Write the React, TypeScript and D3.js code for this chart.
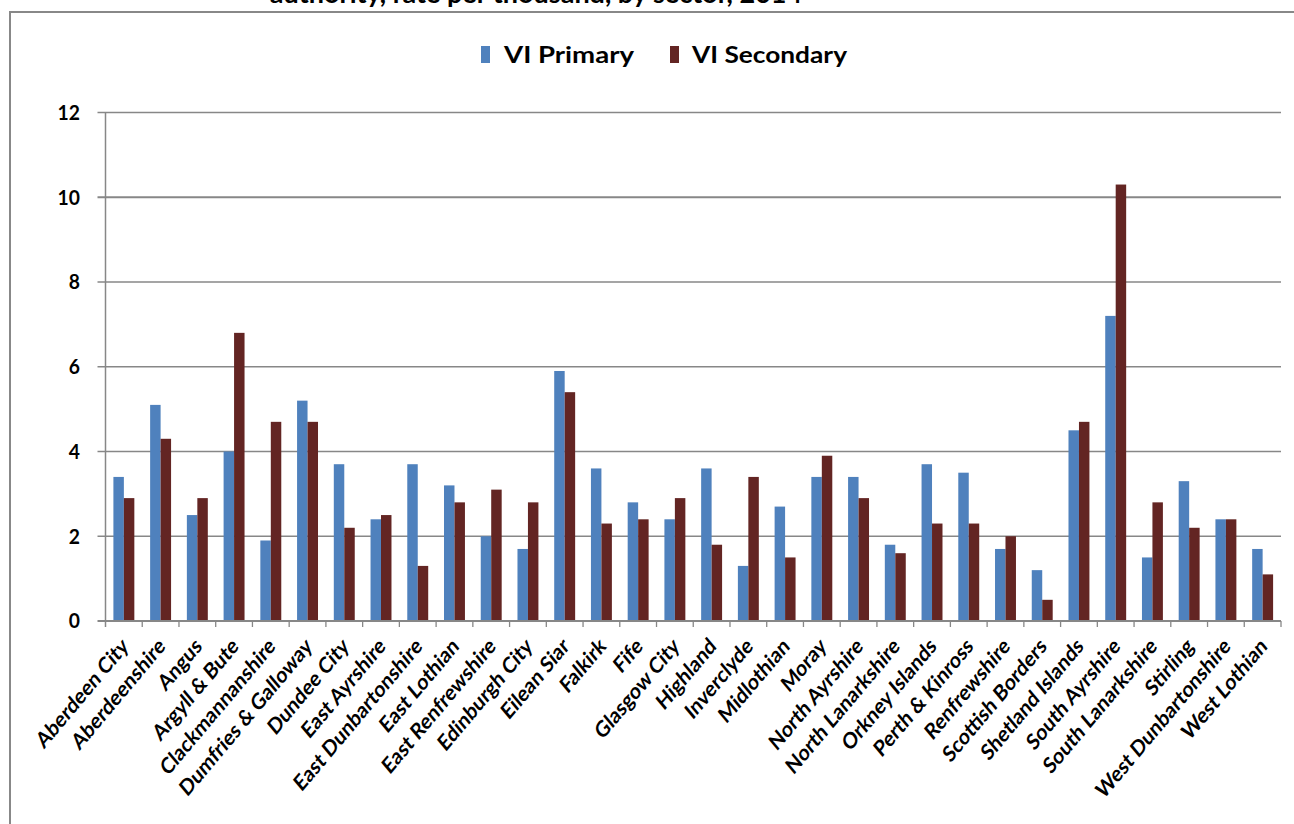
import React from "react";
import * as d3 from "d3";

const categories = [
  "Aberdeen City", "Aberdeenshire", "Angus", "Argyll & Bute", "Clackmannanshire",
  "Dumfries & Galloway", "Dundee City", "East Ayrshire", "East Dunbartonshire", "East Lothian",
  "East Renfrewshire", "Edinburgh City", "Eilean Siar", "Falkirk", "Fife", "Glasgow City",
  "Highland", "Inverclyde", "Midlothian", "Moray", "North Ayrshire", "North Lanarkshire",
  "Orkney Islands", "Perth & Kinross", "Renfrewshire", "Scottish Borders", "Shetland Islands",
  "South Ayrshire", "South Lanarkshire", "Stirling", "West Dunbartonshire", "West Lothian",
];

const primary = [
  3.4, 5.1, 2.5, 4.0, 1.9, 5.2, 3.7, 2.4, 3.7, 3.2, 2.0, 1.7, 5.9, 3.6, 2.8, 2.4,
  3.6, 1.3, 2.7, 3.4, 3.4, 1.8, 3.7, 3.5, 1.7, 1.2, 4.5, 7.2, 1.5, 3.3, 2.4, 1.7,
];

const secondary = [
  2.9, 4.3, 2.9, 6.8, 4.7, 4.7, 2.2, 2.5, 1.3, 2.8, 3.1, 2.8, 5.4, 2.3, 2.4, 2.9,
  1.8, 3.4, 1.5, 3.9, 2.9, 1.6, 2.3, 2.3, 2.0, 0.5, 4.7, 10.3, 2.8, 2.2, 2.4, 1.1,
];

const seriesNames = ["VI  Primary", "VI Secondary"];
const yTicks = [0, 2, 4, 6, 8, 10, 12];
const titleText = "authority, rate per thousand, by sector, 2014";

const W = 1294;
const H = 824;
const COLORS = ["#4F81BD", "#632523"];
const GRID = "#878787";
const FONT = "Lato, 'Open Sans', sans-serif";

export default function App() {
  const left = 105.5;
  const right = 1281;
  const top = 112.5;
  const bottom = 621;

  const x = d3.scaleBand<string>().domain(categories).range([left, right]).paddingInner(0).paddingOuter(0);
  const y = d3.scaleLinear().domain([0, 12]).range([bottom, top]);

  const barW = x.bandwidth() * 0.285;
  const pairOffset = (x.bandwidth() - 2 * barW) / 2;

  return (
    <svg width={W} height={H} style={{ position: "fixed", left: 0, top: 0, background: "#fff" }}>
      <rect x={0} y={0} width={W} height={H} fill="#fff" />
      {/* title, cut at top as in the reference */}
      <text x={536} y={3} textAnchor="middle" fontFamily={FONT} fontWeight="bold" fontSize={27} fill="#000">
        {titleText}
      </text>
      {/* frame */}
      <rect x={10} y={12} width={W + 20} height={H + 20} fill="none" stroke="#888" strokeWidth={2} />

      {/* legend */}
      <rect x={481} y={46} width={9} height={17} fill={COLORS[0]} />
      <text x={504} y={63} fontFamily={FONT} fontWeight="bold" fontSize={23} fill="#000" textLength={130} lengthAdjust="spacingAndGlyphs">
        {seriesNames[0]}
      </text>
      <rect x={670} y={46} width={9} height={17} fill={COLORS[1]} />
      <text x={692} y={63} fontFamily={FONT} fontWeight="bold" fontSize={23} fill="#000" textLength={155} lengthAdjust="spacingAndGlyphs">
        {seriesNames[1]}
      </text>

      {/* gridlines */}
      {yTicks.filter((t) => t > 0).map((t) => (
        <line key={t} x1={left - 8} x2={right} y1={y(t)} y2={y(t)} stroke={GRID} strokeWidth={t === 10 ? 2 : 1.3} />
      ))}
      {/* y labels */}
      {yTicks.map((t) => (
        <text key={t} x={80} y={y(t) + 7.5} textAnchor="end" fontFamily={FONT} fontWeight="bold" fontSize={21} fill="#000"
          transform={`translate(${80} 0) scale(0.92 1) translate(${-80} 0)`}>
          {t}
        </text>
      ))}

      {/* bars */}
      {categories.map((c, i) => {
        const x0 = (x(c) as number) + pairOffset;
        return (
          <g key={c}>
            <rect x={x0} y={y(primary[i])} width={barW} height={y(0) - y(primary[i])} fill={COLORS[0]} />
            <rect x={x0 + barW} y={y(secondary[i])} width={barW} height={y(0) - y(secondary[i])} fill={COLORS[1]} />
          </g>
        );
      })}

      {/* axes */}
      <line x1={left} x2={left} y1={top} y2={bottom + 6} stroke={GRID} strokeWidth={1.5} />
      <line x1={left - 8} x2={right} y1={bottom} y2={bottom} stroke={GRID} strokeWidth={2} />
      {categories.map((c) => (
        <line key={c} x1={(x(c) as number) + x.bandwidth()} x2={(x(c) as number) + x.bandwidth()} y1={bottom} y2={bottom + 6} stroke={GRID} strokeWidth={1.3} />
      ))}

      {/* x labels */}
      {categories.map((c) => {
        const cx = (x(c) as number) + x.bandwidth() / 2 + 1;
        const cy = bottom + 21;
        return (
          <text key={c} x={0} y={0} textAnchor="end" fontFamily={FONT} fontWeight="bold" fontSize={22.5} fill="#000"
            transform={`translate(${cx} ${cy}) scale(0.84 1) rotate(-45)`} dy="0.35em">
            {c}
          </text>
        );
      })}
    </svg>
  );
}
